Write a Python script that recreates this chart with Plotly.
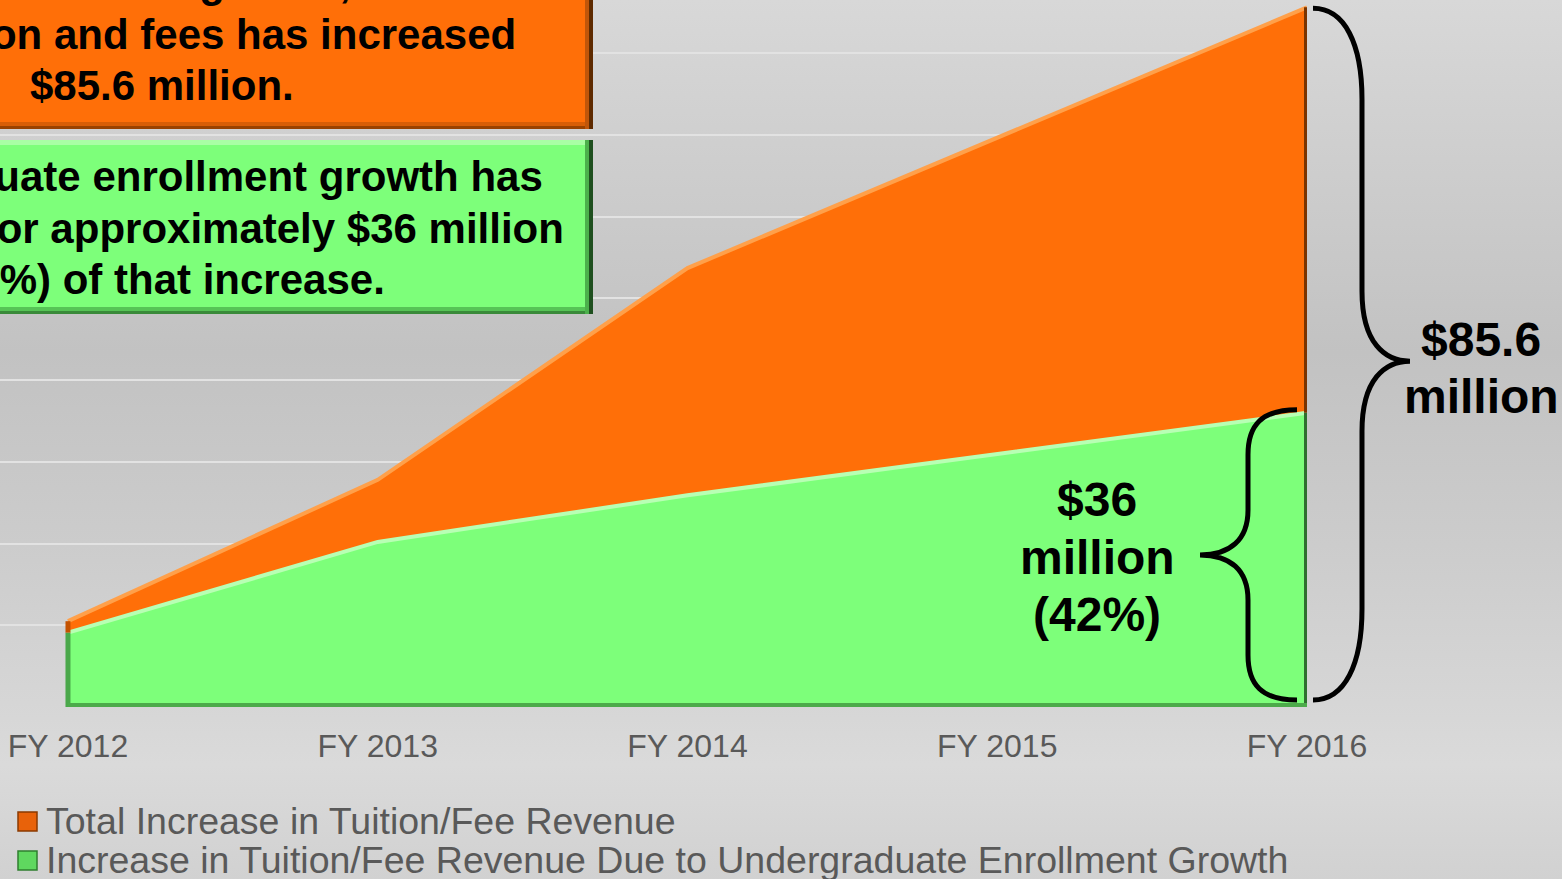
import base64
import plotly.graph_objects as go

# ---------------- data ----------------
categories = ["FY 2012", "FY 2013", "FY 2014", "FY 2015", "FY 2016"]
total_increase = [10.5, 27.8, 53.7, 69.7, 85.6]          # $ millions
undergrad_increase = [9.1, 20.2, 25.9, 30.9, 36.0]       # $ millions
series_names = [
    "Total Increase in Tuition/Fee Revenue",
    "Increase in Tuition/Fee Revenue Due to Undergraduate Enrollment Growth",
]
orange_box_lines = ["enrollment growth,", "from tuition and fees has increased", "$85.6 million."]
green_box_lines = ["Undergraduate enrollment growth has",
                   "accounted for approximately $36 million",
                   "(42%) of that increase."]
small_brace_lines = ["$36", "million", "(42%)"]
big_brace_lines = ["$85.6", "million"]

# ---------------- layout geometry ----------------
W, H = 1562, 879
PW, PH = 1307, 707          # plot area (left margin 0, top margin 0)
YMAX = 86.5
XMIN = -0.2195
FONT = "Liberation Sans, Arial, sans-serif"
ORANGE = "#ff6f08"
GREEN = "#7dff7a"

x_idx = list(range(len(categories)))


def px(xp):
    return xp / PW


def py(yp):
    return (PH - yp) / PH


def vy(v):
    """data value -> pixel y"""
    return PH - v / YMAX * PH


fig = go.Figure()

fig.add_trace(go.Scatter(
    x=x_idx, y=total_increase, name=series_names[0], mode="lines",
    fill="tozeroy", fillcolor=ORANGE,
    line=dict(color="#ffa04a", width=4), showlegend=False,
))
fig.add_trace(go.Scatter(
    x=x_idx, y=undergrad_increase, name=series_names[1], mode="lines",
    fill="tozeroy", fillcolor=GREEN,
    line=dict(color="#b8ffb4", width=4), showlegend=False,
))

shapes = []
# bevel edges of the areas (from data)
last = len(categories) - 1
shapes += [
    dict(type="line", xref="x", yref="y", x0=last, x1=last, y0=0, y1=undergrad_increase[-1],
         line=dict(color="#2f6f2f", width=6), layer="above"),
    dict(type="line", xref="x", yref="y", x0=last, x1=last, y0=undergrad_increase[-1], y1=total_increase[-1],
         line=dict(color="#7a3400", width=6), layer="above"),
    dict(type="line", xref="x", yref="y", x0=0, x1=0, y0=0, y1=undergrad_increase[0],
         line=dict(color="#4aa84a", width=5), layer="above"),
    dict(type="line", xref="x", yref="y", x0=0, x1=0, y0=undergrad_increase[0], y1=total_increase[0],
         line=dict(color="#c45200", width=5), layer="above"),
    dict(type="line", xref="x", yref="y", x0=0, x1=last, y0=0, y1=0,
         line=dict(color="#4caa4a", width=8), layer="above"),
]


def rect(x0, y0, x1, y1, color):
    return dict(type="rect", xref="paper", yref="paper", x0=px(x0), x1=px(x1),
                y0=py(y1), y1=py(y0), fillcolor=color, line=dict(width=0), layer="above")


# orange text box
shapes += [
    rect(-300, -60, 593, 129, ORANGE),
    rect(-300, 122, 593, 126, "#d85e06"),
    rect(-300, 126, 593, 129, "#9a4200"),
    rect(585, -60, 589, 129, "#c0560a"),
    rect(589, -60, 593, 129, "#5e2a00"),
]
# green text box
shapes += [
    rect(-300, 140, 593, 314, GREEN),
    rect(-300, 140, 589, 145, "#a8ffa4"),
    rect(-300, 307, 593, 311, "#56c456"),
    rect(-300, 311, 593, 314, "#3a8a3a"),
    rect(585, 140, 589, 314, "#4cb04c"),
    rect(589, 140, 593, 314, "#1f4f1f"),
]
# legend icons
shapes += [
    dict(type="rect", xref="paper", yref="paper", x0=px(18), x1=px(37), y0=py(831), y1=py(812),
         fillcolor="#e8620a", line=dict(color="#8a3a00", width=1.5), layer="above"),
    dict(type="rect", xref="paper", yref="paper", x0=px(18), x1=px(37), y0=py(870), y1=py(851),
         fillcolor="#5fd85f", line=dict(color="#2f7f2f", width=1.5), layer="above"),
]


# braces (derived from data values)
def path_from_px(cmds):
    out = []
    for c in cmds:
        if isinstance(c, str):
            out.append(c)
        else:
            out.append(f"{px(c[0]):.5f},{py(c[1]):.5f}")
    return " ".join(out)


bt, bb = vy(total_increase[-1]) + 1, vy(0) - 7
bm = (bt + bb) / 2 + 7
big = path_from_px(["M", (1313, bt), "C", (1345, bt), (1362, bt + 36), (1362, bt + 91),
                    "L", (1362, bm - 70), "C", (1362, bm - 18), (1385, bm), (1410, bm),
                    "C", (1385, bm), (1362, bm + 18), (1362, bm + 70),
                    "L", (1362, bb - 91), "C", (1362, bb - 36), (1345, bb), (1313, bb)])
st, sb = vy(undergrad_increase[-1]) - 3, vy(0) - 7
sm = (st + sb) / 2
small = path_from_px(["M", (1297, st), "C", (1262, st), (1248, st + 15), (1248, st + 45),
                      "L", (1248, sm - 45), "C", (1248, sm - 15), (1230, sm), (1200, sm),
                      "C", (1230, sm), (1248, sm + 15), (1248, sm + 45),
                      "L", (1248, sb - 45), "C", (1248, sb - 15), (1262, sb), (1297, sb)])
shapes += [
    dict(type="path", xref="paper", yref="paper", path=big, line=dict(color="black", width=5), layer="above"),
    dict(type="path", xref="paper", yref="paper", path=small, line=dict(color="black", width=5), layer="above"),
]

annotations = []


def text(t, xc, yc, size, color="black", bold=True, anchor="center"):
    annotations.append(dict(
        text=t, xref="paper", yref="paper", x=px(xc), y=py(yc), xanchor=anchor, yanchor="middle",
        showarrow=False, font=dict(family=FONT, size=size, color=color, weight="bold" if bold else "normal"),
    ))


for t, y in zip(orange_box_lines, [-17, 34, 86]):
    text(t, 162, y, 42)
for t, y in zip(green_box_lines, [176, 228, 279]):
    text(t, 162, y, 42)
for t, y in zip(small_brace_lines, [499, 557, 614]):
    text(t, 1097, y, 48)
for t, y in zip(big_brace_lines, [340, 397]):
    text(t, 1481, y, 48)
for t, y in zip(series_names, [821, 860]):
    text(t, 44, y, 37.5, color="#595959", bold=False, anchor="left")

# background gradient
svg = (
    f'<svg xmlns="http://www.w3.org/2000/svg" width="{W}" height="{H}" viewBox="0 0 {W} {H}" '
    'preserveAspectRatio="none"><defs><linearGradient id="g" x1="0" y1="0" x2="0" y2="1">'
    '<stop offset="0" stop-color="#d8d8d8"/><stop offset="0.4" stop-color="#c2c2c2"/>'
    '<stop offset="0.62" stop-color="#cccccc"/><stop offset="0.87" stop-color="#dadada"/>'
    '<stop offset="1" stop-color="#d1d1d1"/></linearGradient></defs>'
    f'<rect x="0" y="0" width="{W}" height="{H}" fill="url(#g)"/></svg>'
)
bg_src = "data:image/svg+xml;base64," + base64.b64encode(svg.encode()).decode()

fig.update_layout(
    width=W, height=H,
    margin=dict(l=0, r=W - PW, t=0, b=H - PH, pad=0),
    paper_bgcolor="#d0d0d0", plot_bgcolor="rgba(0,0,0,0)",
    showlegend=False,
    shapes=shapes, annotations=annotations,
    images=[dict(source=bg_src, xref="paper", yref="paper", x=0, y=1,
                 sizex=W / PW, sizey=H / PH, sizing="stretch", layer="below", xanchor="left", yanchor="top")],
    xaxis=dict(range=[XMIN, last], tickvals=x_idx, ticktext=categories, showgrid=False,
               zeroline=False, showline=False, ticks="", fixedrange=True, ticklabelstandoff=17,
               tickfont=dict(family=FONT, size=32, color="#595959")),
    yaxis=dict(range=[0, YMAX], dtick=10, showgrid=True, gridcolor="#e2e2e2", gridwidth=2,
               zeroline=False, showticklabels=False, ticks="", fixedrange=True),
    font=dict(family=FONT),
)

fig.write_html(
    "out.html",
    config={"displayModeBar": False},
    post_script="document.body.style.margin='0';document.body.style.overflow='hidden';",
)
